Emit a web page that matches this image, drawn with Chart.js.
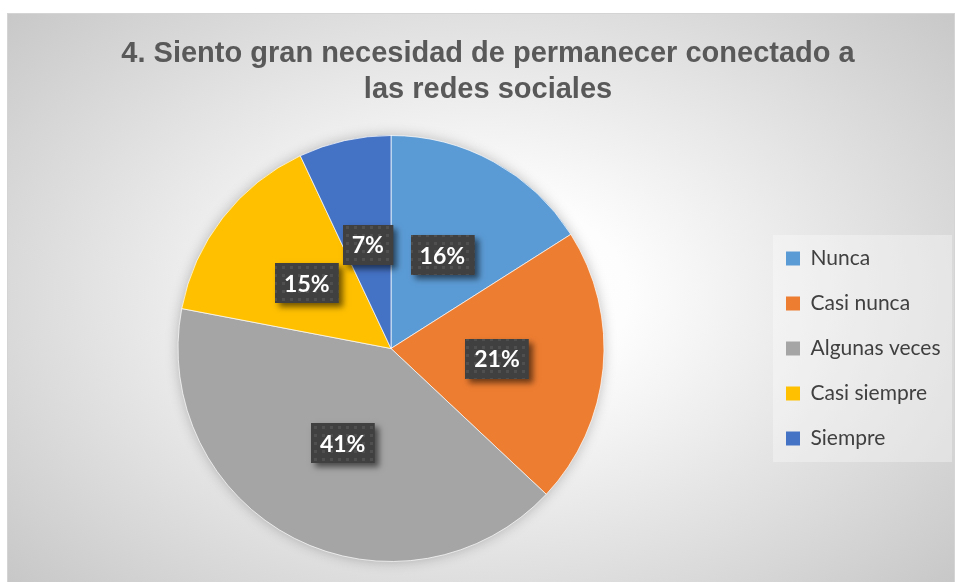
<!DOCTYPE html>
<html lang="es">
<head>
<meta charset="utf-8">
<title>Siento gran necesidad de permanecer conectado a las redes sociales</title>
<script src="https://cdn.jsdelivr.net/npm/chart.js@4/dist/chart.umd.min.js"></script>
<style>
  html, body { margin: 0; padding: 0; background: #ffffff; }
  #wrap { position: relative; width: 956px; height: 582px; overflow: hidden; }
  #panel {
    position: absolute; left: 7px; top: 13px; width: 948px; height: 600px;
    box-sizing: border-box;
    border: 1px solid #d4d4d4;
    background: radial-gradient(ellipse farthest-corner at 50% 47%, #ffffff 0%, #fdfdfd 22%, #c4c4c4 100%);
  }
  #chart { position: absolute; left: 0; top: 0; }
</style>
</head>
<body>
<div id="wrap">
  <div id="panel"></div>
  <canvas id="chart" width="956" height="582"></canvas>
</div>
<script>
// Survey answers and their share of responses (%)
const categories = ['Nunca', 'Casi nunca', 'Algunas veces', 'Casi siempre', 'Siempre'];
const percentages = [16, 21, 41, 15, 7];
const sliceColors = ['#5B9BD5', '#ED7D31', '#A5A5A5', '#FFC000', '#4472C4'];
const titleLines = ['4. Siento gran necesidad de permanecer conectado a', 'las redes sociales'];

// Fixed width for the legend column on the right
const LEGEND_WIDTH = 194;

// Small dotted texture used on the value label boxes
function makeDotPattern(ctx) {
  const c = document.createElement('canvas');
  c.width = 8; c.height = 8;
  const p = c.getContext('2d');
  p.fillStyle = '#404040';
  p.fillRect(0, 0, 8, 8);
  p.fillStyle = 'rgba(255,255,255,0.08)';
  p.fillRect(2, 2, 3, 3);
  return ctx.createPattern(c, 'repeat');
}

// Keeps the legend box at a constant width so the pie sits where intended
const legendWidth = {
  id: 'legendWidth',
  beforeLayout(chart) {
    const lg = chart.legend;
    if (lg && !lg._fixedWidth) {
      const fit = lg.fit.bind(lg);
      lg.fit = function () { fit(); this.width = LEGEND_WIDTH; };
      lg._fixedWidth = true;
    }
  }
};

// Translucent panel behind the legend
const legendPanel = {
  id: 'legendPanel',
  beforeDraw(chart) {
    const lg = chart.legend;
    if (!lg || !lg.legendHitBoxes || !lg.legendHitBoxes.length) return;
    const boxes = lg.legendHitBoxes;
    const first = boxes[0], last = boxes[boxes.length - 1];
    const x0 = first.left - 13;
    const x1 = lg.right - 4;
    const y0 = first.top - 13;
    const y1 = last.top + last.height + 13;
    const ctx = chart.ctx;
    ctx.save();
    ctx.fillStyle = 'rgba(255,255,255,0.32)';
    ctx.fillRect(x0, y0, x1 - x0, y1 - y0);
    ctx.restore();
  }
};

// Soft halo under the pie
const pieHalo = {
  id: 'pieHalo',
  beforeDatasetsDraw(chart) {
    const arc = chart.getDatasetMeta(0).data[0];
    if (!arc) return;
    const ctx = chart.ctx;
    ctx.save();
    ctx.shadowColor = 'rgba(0,0,0,0.28)';
    ctx.shadowBlur = 14;
    ctx.fillStyle = '#a5a5a5';
    ctx.beginPath();
    ctx.arc(arc.x, arc.y, arc.outerRadius - 1, 0, Math.PI * 2);
    ctx.fill();
    ctx.restore();
  }
};

// Percentage callouts drawn on dark boxes at each slice's centroid
const valueBoxes = {
  id: 'valueBoxes',
  afterDatasetsDraw(chart) {
    const ctx = chart.ctx;
    const meta = chart.getDatasetMeta(0);
    const values = chart.data.datasets[0].data;
    const pattern = makeDotPattern(ctx);
    ctx.save();
    ctx.font = 'bold 23px Lato, "Open Sans", sans-serif';
    ctx.textAlign = 'center';
    ctx.textBaseline = 'middle';
    meta.data.forEach((arc, i) => {
      const pos = arc.tooltipPosition();
      const text = values[i] + '%';
      const w = ctx.measureText(text).width + 18;
      const h = 40;
      const x = Math.round(pos.x - w / 2);
      const y = Math.round(pos.y - h / 2);
      ctx.save();
      ctx.shadowColor = 'rgba(0,0,0,0.55)';
      ctx.shadowBlur = 6;
      ctx.shadowOffsetX = 4;
      ctx.shadowOffsetY = 4;
      ctx.fillStyle = '#404040';
      ctx.fillRect(x, y, w, h);
      ctx.restore();
      ctx.fillStyle = pattern;
      ctx.fillRect(x, y, w, h);
      ctx.fillStyle = '#ffffff';
      ctx.fillText(text, pos.x, pos.y + 1);
    });
    ctx.restore();
  }
};

const ctx = document.getElementById('chart').getContext('2d');
new Chart(ctx, {
  type: 'pie',
  data: {
    labels: categories,
    datasets: [{
      data: percentages,
      backgroundColor: sliceColors,
      borderColor: 'rgba(255,255,255,0.7)',
      borderWidth: 1
    }]
  },
  options: {
    responsive: false,
    animation: false,
    devicePixelRatio: 1,
    layout: { padding: { left: 20, right: 0, top: 0, bottom: 20 } },
    plugins: {
      title: {
        display: true,
        text: titleLines,
        color: '#595959',
        font: { family: '"Liberation Sans", Arial, sans-serif', size: 29, weight: 'bold', lineHeight: '36px' },
        padding: { top: 36, bottom: 27 }
      },
      legend: {
        position: 'right',
        fullSize: false,
        labels: {
          boxWidth: 14,
          boxHeight: 14,
          padding: 24,
          color: '#404040',
          font: { family: 'Lato, "Open Sans", sans-serif', size: 21 },
          generateLabels(chart) {
            const items = Chart.overrides.pie.plugins.legend.labels.generateLabels(chart);
            items.forEach(it => { it.lineWidth = 0; it.strokeStyle = it.fillStyle; });
            return items;
          }
        }
      },
      tooltip: { enabled: false }
    }
  },
  plugins: [legendWidth, legendPanel, pieHalo, valueBoxes]
});
</script>
</body>
</html>
